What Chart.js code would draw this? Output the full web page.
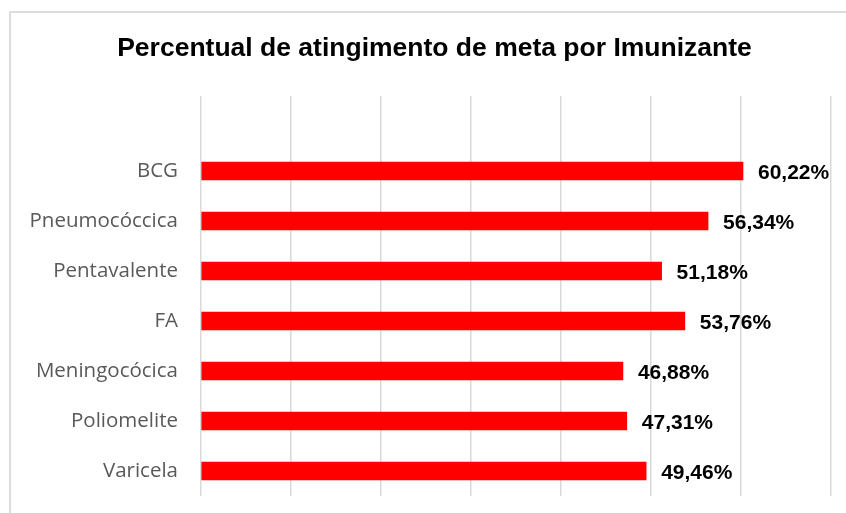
<!DOCTYPE html>
<html>
<head>
<meta charset="utf-8">
<script src="https://cdn.jsdelivr.net/npm/chart.js@4/dist/chart.umd.min.js"></script>
<style>
  html, body { margin: 0; padding: 0; background: #ffffff; }
  #wrap { position: relative; width: 846px; height: 513px; overflow: hidden; }
  #frame { position: absolute; left: 9px; top: 11px; width: 900px; height: 600px;
           border-left: 2px solid #dcdcdc; border-top: 2px solid #dcdcdc; box-sizing: border-box; }
  canvas { position: absolute; left: 0; top: 0; }
</style>
</head>
<body>
<div id="wrap">
  <div id="frame"></div>
  <canvas id="c" width="846" height="513"></canvas>
</div>
<script>
const titleText = 'Percentual de atingimento de meta por Imunizante';
const categories = ['', 'BCG', 'Pneumocóccica', 'Pentavalente', 'FA', 'Meningocócica', 'Poliomelite', 'Varicela'];
const values = [null, 60.22, 56.34, 51.18, 53.76, 46.88, 47.31, 49.46];
const axisMin = 0;
const axisMax = 70;
const axisStep = 10;

const valueLabels = {
  id: 'valueLabels',
  afterDatasetsDraw(chart) {
    const ctx = chart.ctx;
    const meta = chart.getDatasetMeta(0);
    ctx.save();
    ctx.font = 'bold 21px "Liberation Sans", Arial, sans-serif';
    ctx.fillStyle = '#000000';
    ctx.textAlign = 'left';
    ctx.textBaseline = 'middle';
    meta.data.forEach((bar, i) => {
      const v = values[i];
      if (v === null || v === undefined) return;
      const txt = v.toFixed(2).replace('.', ',') + '%';
      ctx.fillText(txt, bar.x + 15, bar.y + 2);
    });
    ctx.restore();
  }
};

// let the category labels extend left of the layout padding without being clipped
const widenLabelArea = {
  id: 'widenLabelArea',
  afterLayout(chart) {
    chart.scales.y.left = 0;
  }
};

new Chart(document.getElementById('c'), {
  type: 'bar',
  data: {
    labels: categories,
    datasets: [{
      data: values,
      backgroundColor: '#ff0000',
      borderWidth: 0,
      barThickness: 18
    }]
  },
  options: {
    responsive: false,
    animation: false,
    indexAxis: 'y',
    layout: { padding: { left: 38, right: 15, top: 0, bottom: 17 } },
    plugins: {
      legend: { display: false },
      tooltip: { enabled: false },
      title: {
        display: true,
        text: titleText,
        color: '#000000',
        font: { family: '"Liberation Sans", Arial, sans-serif', size: 26.5, weight: 'bold' },
        padding: { top: 33, bottom: 31.2 }
      }
    },
    scales: {
      x: {
        min: axisMin,
        max: axisMax,
        ticks: { display: false, stepSize: axisStep },
        grid: { color: '#d9d9d9', lineWidth: 1.5, drawTicks: false },
        border: { display: false },
        afterFit(scale) {
          scale.height = 0;
          scale.paddingLeft = 0; scale.paddingRight = 0;
        }
      },
      y: {
        grid: { display: false, drawTicks: false },
        border: { display: false },
        ticks: {
          color: '#595959',
          padding: 23,
          font: { family: '"Open Sans", sans-serif', size: 20.5 }
        },
        afterFit(scale) {
          scale.width = 163;
          scale.paddingTop = 0; scale.paddingBottom = 0;
        }
      }
    }
  },
  plugins: [valueLabels, widenLabelArea]
});
</script>
</body>
</html>
